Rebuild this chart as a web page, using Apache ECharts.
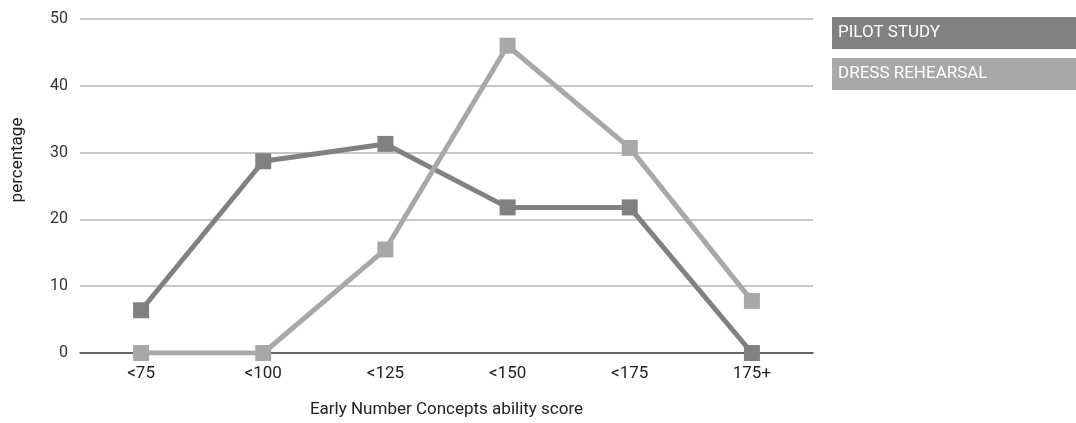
<!DOCTYPE html>
<html><head><meta charset="utf-8">
<script src="https://cdn.jsdelivr.net/npm/echarts@6/dist/echarts.min.js"></script>
<style>html,body{margin:0;padding:0;background:#fff}#c{width:1076px;height:423px}</style>
</head><body><div id="c"></div>
<script>
const categories = ['<75', '<100', '<125', '<150', '<175', '175+'];
const pilotStudy = [6.4, 28.7, 31.3, 21.8, 21.8, 0];
const dressRehearsal = [0, 0, 15.5, 46.0, 30.7, 7.8];
const yTicks = [0, 10, 20, 30, 40, 50];
const seriesNames = ['PILOT STUDY', 'DRESS REHEARSAL'];
const colors = ['#818181', '#a8a8aa'];
const font = 'Roboto, "DejaVu Sans", sans-serif';

const chart = echarts.init(document.getElementById('c'));
chart.setOption({
  animation: false,
  textStyle: { fontFamily: font },
  grid: { left: 80, right: 263, top: 19, bottom: 66, containLabel: false },
  legend: {
    orient: 'vertical', right: 0, top: 17, padding: 0, itemGap: 9,
    itemWidth: 0, itemHeight: 0, icon: 'rect',
    selectedMode: false,
    data: seriesNames.map((n, i) => ({ name: n, textStyle: { backgroundColor: colors[i] } })),
    textStyle: { color: '#fff', fontSize: 17, fontFamily: font, padding: [8, 8, 8, 6], width: 230, lineHeight: 16 }
  },
  graphic: [{
    type: 'text', x: 18, y: 160, rotation: Math.PI / 2,
    style: { text: 'percentage', fontSize: 17, fill: '#222', fontFamily: font, align: 'center', verticalAlign: 'middle' }
  }],
  xAxis: {
    type: 'category', data: categories, boundaryGap: true,
    name: 'Early Number Concepts ability score', nameLocation: 'middle', nameGap: 48,
    nameTextStyle: { fontSize: 17, color: '#222', fontFamily: font },
    axisLine: { lineStyle: { color: '#444', width: 1.5 } },
    axisTick: { inside: true, length: 7, lineStyle: { color: '#444', width: 1.5 } },
    axisLabel: { fontSize: 17, color: '#222', margin: 12, fontFamily: font }
  },
  yAxis: {
    type: 'value', min: yTicks[0], max: yTicks[yTicks.length - 1], interval: 10,
    axisLine: { show: false }, axisTick: { show: false },
    axisLabel: { fontSize: 16, color: '#333', margin: 12, fontFamily: font },
    splitLine: { lineStyle: { color: '#b4b4b4', width: 1.5 } }
  },
  series: seriesNames.map((n, i) => ({
    name: n, type: 'line', data: i === 0 ? pilotStudy : dressRehearsal,
    symbol: 'rect', symbolSize: 16,
    lineStyle: { color: colors[i], width: 5 },
    itemStyle: { color: colors[i] },
    z: 3 + i
  }))
});
</script></body></html>
